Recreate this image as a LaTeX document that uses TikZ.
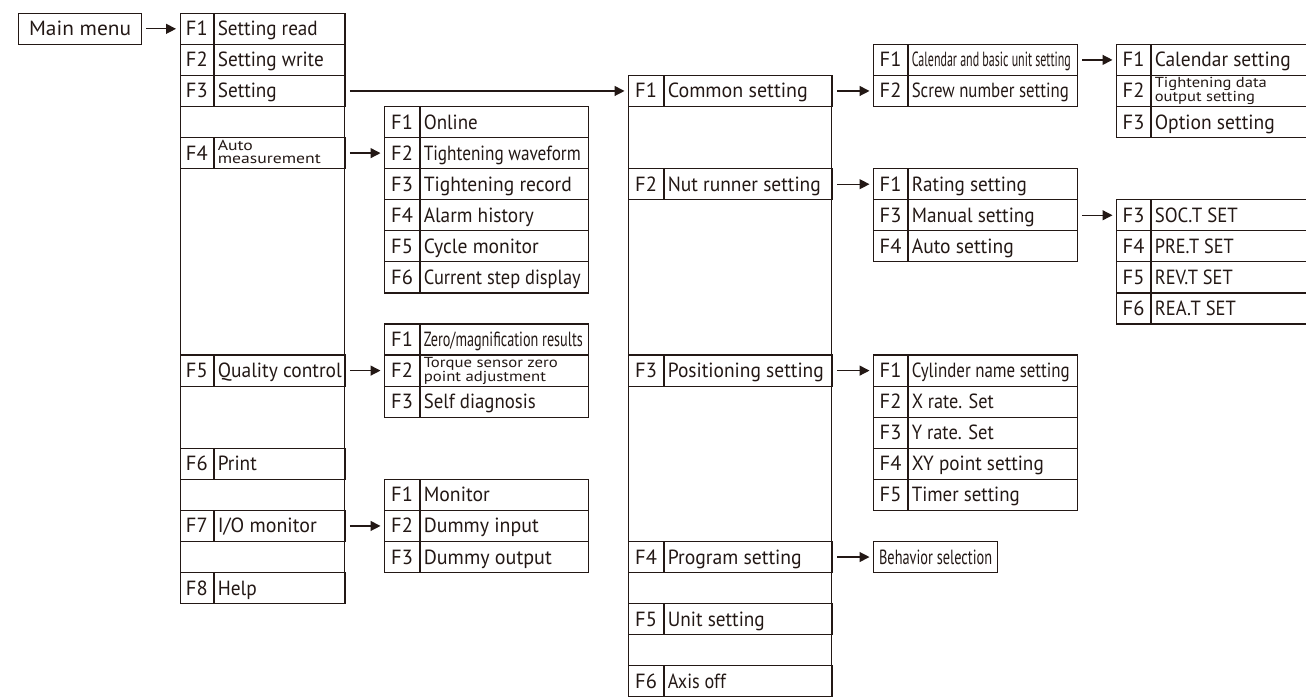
\documentclass[tikz,border=0pt]{standalone}
\usepackage{fontspec}
\setmainfont{PT Sans}
\usepackage{graphicx}
\usetikzlibrary{arrows.meta}
\definecolor{ink}{RGB}{35,24,21}
\newcommand\ry[1]{(12.7+31.07*(#1))}
\newcommand\vc{\rule[-5pt]{0pt}{24pt}}
\newcommand\cond[2]{\resizebox{#1}{\height}{#2}}
\newcommand\two[3]{\resizebox{#1}{\height}{\fontsize{14.5}{12.8}\selectfont\begin{tabular}[c]{@{}l@{}}#2\\#3\end{tabular}}}
% name, x0, fw, tw, row, F, text
\newcommand\mrow[7]{%
  \pgfmathsetmacro\mytw{#4-6}%
  \node[fcell, minimum width=#3pt] (#1-f) at (#2,{\ry{#5}}) {\vc#6};
  \node[tcell, minimum width=#4pt] (#1) at (#1-f.north east) {\makebox[\mytw pt][l]{\vc#7}};
}
\begin{document}
\begin{tikzpicture}[x=1pt,y=-1pt,
  line width=1.2pt,
  base/.style={draw=ink, text=ink, anchor=north west, minimum height=31.07pt,
    font=\fontsize{20.5}{23}\selectfont},
  fcell/.style={base, inner sep=0pt},
  tcell/.style={base, inner xsep=3pt, inner ysep=0pt},
  outer/.style={draw=ink, anchor=north west, inner sep=0pt},
  arr/.style={draw=ink, line width=1.3pt, -{Triangle[length=10pt,width=10pt]},
    shorten <=4pt, shorten >=3.5pt}]
\useasboundingbox (0,0) rectangle (1306,696);
\clip (0,0) rectangle (1306,696);

% Main menu
\node[base, inner sep=0pt, minimum width=123pt] (mm) at (18,{\ry{0}}) {\vc\cond{102pt}{Main menu}};

% main column
\node[outer, minimum width=164pt, minimum height=590.33pt] (mcol) at (179.5,{\ry{0}}) {};
\mrow{m1}{179.5}{33.5}{130.5}{0}{F1}{\cond{100pt}{Setting read}}
\mrow{m2}{179.5}{33.5}{130.5}{1}{F2}{\cond{106pt}{Setting write}}
\mrow{m3}{179.5}{33.5}{130.5}{2}{F3}{\cond{59pt}{Setting}}
\mrow{m4}{179.5}{33.5}{130.5}{4}{F4}{\two{103pt}{Auto}{measurement}}
\mrow{m5}{179.5}{33.5}{130.5}{11}{F5}{\cond{124pt}{Quality control}}
\mrow{m6}{179.5}{33.5}{130.5}{14}{F6}{\cond{39pt}{Print}}
\mrow{m7}{179.5}{33.5}{130.5}{16}{F7}{\cond{99pt}{I/O monitor}}
\mrow{m8}{179.5}{33.5}{130.5}{18}{F8}{\cond{39pt}{Help}}

% sub A
\mrow{a1}{384}{35}{168}{3}{F1}{\cond{54pt}{Online}}
\mrow{a2}{384}{35}{168}{4}{F2}{\cond{157pt}{Tightening waveform}}
\mrow{a3}{384}{35}{168}{5}{F3}{\cond{148pt}{Tightening record}}
\mrow{a4}{384}{35}{168}{6}{F4}{\cond{110pt}{Alarm history}}
\mrow{a5}{384}{35}{168}{7}{F5}{\cond{115pt}{Cycle monitor}}
\mrow{a6}{384}{35}{168}{8}{F6}{\cond{157pt}{Current step display}}

% sub B
\mrow{b1}{384}{35}{168}{10}{F1}{\cond{159pt}{Zero/magnification results}}
\mrow{b2}{384}{35}{168}{11}{F2}{\two{134pt}{Torque sensor zero}{point adjustment}}
\mrow{b3}{384}{35}{168}{12}{F3}{\cond{112pt}{Self diagnosis}}

% sub C
\mrow{s1}{384}{35}{168}{15}{F1}{\cond{66pt}{Monitor}}
\mrow{s2}{384}{35}{168}{16}{F2}{\cond{115pt}{Dummy input}}
\mrow{s3}{384}{35}{168}{17}{F3}{\cond{128pt}{Dummy output}}

% second column
\node[outer, minimum width=203pt, minimum height=700pt] (ccol) at (628,{\ry{2}}) {};
\mrow{c1}{628}{35}{168}{2}{F1}{\cond{140pt}{Common setting}}
\mrow{c2}{628}{35}{168}{5}{F2}{\cond{153pt}{Nut runner setting}}
\mrow{c3}{628}{35}{168}{11}{F3}{\cond{156pt}{Positioning setting}}
\mrow{c4}{628}{35}{168}{17}{F4}{\cond{134pt}{Program setting}}
\mrow{c5}{628}{35}{168}{19}{F5}{\cond{97pt}{Unit setting}}
\mrow{c6}{628}{35}{168}{21}{F6}{\cond{58pt}{Axis off}}

% D
\mrow{d1}{873}{34}{169}{1}{F1}{\cond{159pt}{Calendar and basic unit setting}}
\mrow{d2}{873}{34}{169}{2}{F2}{\cond{157pt}{Screw number setting}}

% E
\mrow{e1}{1116}{34}{210}{1}{F1}{\cond{136pt}{Calendar setting}}
\mrow{e2}{1116}{34}{210}{2}{F2}{\two{112pt}{Tightening data}{output setting}}
\mrow{e3}{1116}{34}{210}{3}{F3}{\cond{120pt}{Option setting}}

% R (nut runner)
\mrow{r1}{873}{34}{169}{5}{F1}{\cond{115pt}{Rating setting}}
\mrow{r2}{873}{34}{169}{6}{F3}{\cond{123pt}{Manual setting}}
\mrow{r3}{873}{34}{169}{7}{F4}{\cond{102pt}{Auto setting}}

% G
\mrow{g1}{1116}{34}{210}{6}{F3}{\cond{83pt}{SOC.T SET}}
\mrow{g2}{1116}{34}{210}{7}{F4}{\cond{79pt}{PRE.T SET}}
\mrow{g3}{1116}{34}{210}{8}{F5}{\cond{78pt}{REV.T SET}}
\mrow{g4}{1116}{34}{210}{9}{F6}{\cond{81pt}{REA.T SET}}

% H
\mrow{h1}{873}{34}{169}{11}{F1}{\cond{158pt}{Cylinder name setting}}
\mrow{h2}{873}{34}{169}{12}{F2}{\cond{82pt}{X rate. Set}}
\mrow{h3}{873}{34}{169}{13}{F3}{\cond{82pt}{Y rate. Set}}
\mrow{h4}{873}{34}{169}{14}{F4}{\cond{132pt}{XY point setting}}
\mrow{h5}{873}{34}{169}{15}{F5}{\cond{108pt}{Timer setting}}

% behavior
\node[base, inner sep=0pt, minimum width=124pt] (beh) at (873,{\ry{17}}) {\vc\cond{113pt}{Behavior selection}};

% arrows
\draw[arr] (mm.east) -- (m1-f.west);
\draw[arr] (m3.east) -- (c1-f.west);
\draw[arr] (m4.east) -- (a2-f.west);
\draw[arr] (m5.east) -- (b2-f.west);
\draw[arr] (m7.east) -- (s2-f.west);
\draw[arr] (c1.east) -- (d2-f.west);
\draw[arr] (d1.east) -- (e1-f.west);
\draw[arr] (c2.east) -- (r1-f.west);
\draw[arr] (r2.east) -- (g1-f.west);
\draw[arr] (c3.east) -- (h1-f.west);
\draw[arr] (c4.east) -- (beh.west);
\end{tikzpicture}
\end{document}
